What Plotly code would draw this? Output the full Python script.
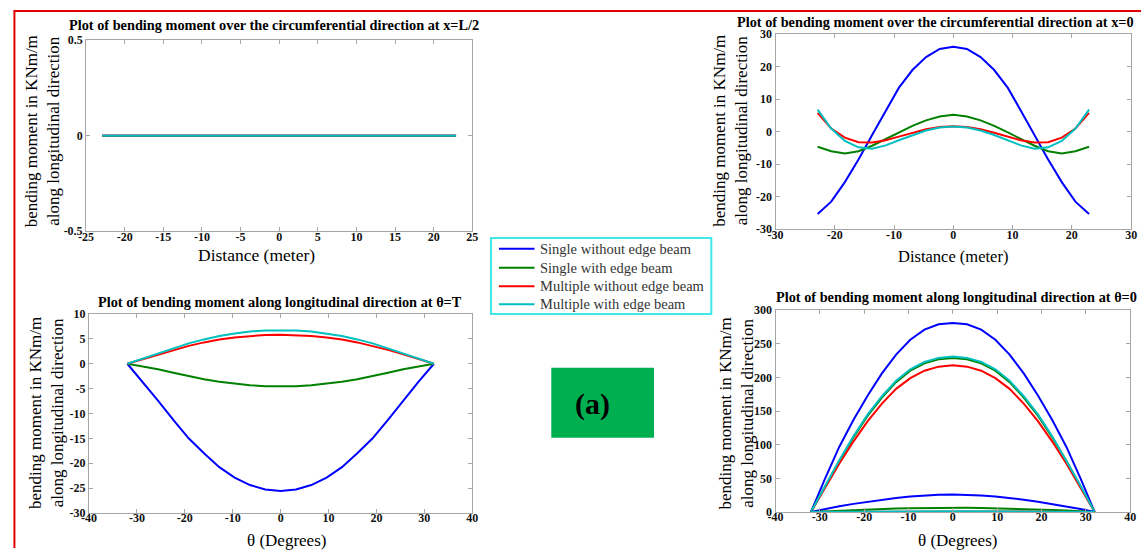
import plotly.graph_objects as go

W, H = 1147, 555

# ---- data ----------------------------------------------------------------
series_names = ["Single without edge beam", "Single with edge beam",
                "Multiple without edge beam", "Multiple with edge beam"]
series_colors = ["#0000ff", "#008000", "#ff0000", "#00bfbf"]

distance = [-22.9, -20.6, -18.3, -16.0, -13.7, -11.4, -9.2, -6.9, -4.6, -2.3, 0.0,
            2.3, 4.6, 6.9, 9.2, 11.4, 13.7, 16.0, 18.3, 20.6, 22.9]
theta = [-32.0, -28.8, -25.6, -22.4, -19.2, -16.0, -12.8, -9.6, -6.4, -3.2, 0.0,
         3.2, 6.4, 9.6, 12.8, 16.0, 19.2, 22.4, 25.6, 28.8, 32.0]

# circumferential moment at x = L/2
mid_single = [0.000, 0.000, 0.001, 0.001, 0.001, 0.001, 0.000, 0.000, -0.001, 0.000, 0.001,
              0.000, -0.001, 0.000, 0.001, 0.001, 0.001, 0.001, 0.001, 0.000, 0.000]
mid_single_eb = [0.000, 0.000, 0.001, 0.001, 0.001, 0.001, 0.000, 0.000, -0.001, 0.000, 0.001,
                 0.000, -0.001, 0.000, 0.001, 0.001, 0.001, 0.001, 0.001, 0.000, 0.000]
mid_multi = [0.000, 0.000, 0.001, 0.001, 0.001, 0.001, 0.000, 0.000, -0.001, 0.000, 0.001,
             0.000, -0.001, 0.000, 0.001, 0.001, 0.001, 0.001, 0.001, 0.000, 0.000]
mid_multi_eb = [-0.001, -0.001, 0.000, 0.001, 0.001, 0.001, 0.001, 0.000, -0.002, -0.001, 0.001,
                -0.001, -0.002, 0.000, 0.001, 0.001, 0.001, 0.001, 0.000, -0.001, -0.001]

# circumferential moment at x = 0
end_single = [-25.3, -21.5, -15.5, -8.5, -1.0, 6.5, 13.5, 19.0, 23.0, 25.5, 26.2,
              25.5, 23.0, 19.0, 13.5, 6.5, -1.0, -8.5, -15.5, -21.5, -25.3]
end_single_eb = [-4.6, -6.0, -6.7, -6.0, -4.3, -2.2, -0.2, 1.8, 3.5, 4.7, 5.2,
                 4.7, 3.5, 1.8, -0.2, -2.2, -4.3, -6.0, -6.7, -6.0, -4.6]
end_multi = [5.8, 1.0, -1.8, -3.2, -3.3, -2.6, -1.5, -0.3, 0.8, 1.5, 1.7,
             1.5, 0.8, -0.3, -1.5, -2.6, -3.3, -3.2, -1.8, 1.0, 5.8]
end_multi_eb = [6.8, 1.0, -2.8, -4.8, -5.2, -4.2, -2.6, -1.0, 0.4, 1.3, 1.6,
                1.3, 0.4, -1.0, -2.6, -4.2, -5.2, -4.8, -2.8, 1.0, 6.8]

# longitudinal moment at theta = T
edge_single = [0.0, -3.6, -7.4, -11.3, -15.0, -18.0, -20.8, -22.9, -24.4, -25.3, -25.6,
               -25.3, -24.4, -22.9, -20.8, -18.0, -15.0, -11.3, -7.4, -3.6, 0.0]
edge_single_eb = [0.0, -0.5, -1.1, -1.8, -2.5, -3.1, -3.6, -4.0, -4.3, -4.5, -4.5,
                  -4.5, -4.3, -4.0, -3.6, -3.1, -2.5, -1.8, -1.1, -0.5, 0.0]
edge_multi = [0.0, 0.9, 1.9, 2.8, 3.6, 4.3, 4.9, 5.3, 5.6, 5.8, 5.85,
              5.8, 5.6, 5.3, 4.9, 4.3, 3.6, 2.8, 1.9, 0.9, 0.0]
edge_multi_eb = [0.0, 1.0, 2.1, 3.1, 4.1, 4.9, 5.6, 6.1, 6.5, 6.7, 6.75,
                 6.7, 6.5, 6.1, 5.6, 4.9, 4.1, 3.1, 2.1, 1.0, 0.0]

# longitudinal moment at theta = 0 (upper set)
crown_single = [0, 50, 97, 137, 173, 206, 234, 256, 271, 279, 281,
                279, 271, 256, 234, 206, 173, 137, 97, 50, 0]
crown_single_eb = [0, 38, 76, 111, 143, 170, 193, 210, 221, 227, 229,
                   227, 221, 210, 193, 170, 143, 111, 76, 38, 0]
crown_multi = [0, 36, 72, 105, 135, 161, 183, 199, 210, 216, 218,
               216, 210, 199, 183, 161, 135, 105, 72, 36, 0]
crown_multi_eb = [0, 39, 77, 113, 145, 172, 195, 212, 223, 229, 231,
                  229, 223, 212, 195, 172, 145, 113, 77, 39, 0]
# longitudinal moment at theta = 0 (lower set)
crown_single_lo = [0, 4.5, 8.5, 12.0, 15.3, 18.2, 20.8, 22.9, 24.6, 25.6, 26.0,
                   25.6, 24.6, 22.9, 20.8, 18.2, 15.3, 12.0, 8.5, 4.5, 0]
crown_single_eb_lo = [0, 1.0, 2.0, 2.9, 3.7, 4.5, 5.1, 5.6, 6.0, 6.2, 6.3,
                      6.2, 6.0, 5.6, 5.1, 4.5, 3.7, 2.9, 2.0, 1.0, 0]
crown_multi_lo = [0, 0.1, 0.2, 0.3, 0.4, 0.5, 0.5, 0.6, 0.6, 0.7, 0.7,
                  0.7, 0.6, 0.6, 0.5, 0.5, 0.4, 0.3, 0.2, 0.1, 0]
crown_multi_eb_lo = [0, 0.2, 0.3, 0.5, 0.6, 0.7, 0.8, 0.9, 0.9, 1.0, 1.0,
                     1.0, 0.9, 0.9, 0.8, 0.7, 0.6, 0.5, 0.3, 0.2, 0]

tl_xticks = [-25, -20, -15, -10, -5, 0, 5, 10, 15, 20, 25]
tl_yticks = [-0.5, 0, 0.5]
tr_xticks = [-30, -20, -10, 0, 10, 20, 30]
tr_yticks = [-30, -20, -10, 0, 10, 20, 30]
bl_xticks = [-40, -30, -20, -10, 0, 10, 20, 30, 40]
bl_yticks = [-30, -25, -20, -15, -10, -5, 0, 5, 10]
br_xticks = [-40, -30, -20, -10, 0, 10, 20, 30, 40]
br_yticks = [0, 50, 100, 150, 200, 250, 300]

titles = ["Plot of bending moment over the circumferential direction at x=L/2",
          "Plot of bending moment over the circumferential direction at x=0",
          "Plot of bending moment along longitudinal direction at θ=T",
          "Plot of bending moment along longitudinal direction at θ=0"]
ylabel = "bending moment in KNm/m<br>along longitudinal direction"
xlabel_dist = "Distance (meter)"
xlabel_theta = "θ (Degrees)"
panel_tag = "(a)"

# ---- helpers -------------------------------------------------------------
SERIF = "Liberation Serif, Times New Roman, serif"


def px_x(p):
    return p / W


def px_y(p):
    return 1 - p / H


def tick_text(vals):
    return [("%g" % v) for v in vals]


fig = go.Figure()

panels = [
    ("x", "y", distance, [mid_single, mid_single_eb, mid_multi, mid_multi_eb]),
    ("x2", "y2", distance, [end_single, end_single_eb, end_multi, end_multi_eb]),
    ("x3", "y3", theta, [edge_single, edge_single_eb, edge_multi, edge_multi_eb]),
    ("x4", "y4", theta, [crown_single, crown_single_eb, crown_multi, crown_multi_eb]),
    ("x4", "y4", theta, [crown_single_lo, crown_single_eb_lo, crown_multi_lo, crown_multi_eb_lo]),
]

for k, (xa, ya, xs, group) in enumerate(panels):
    for i, ys in enumerate(group):
        fig.add_trace(go.Scatter(
            x=xs, y=ys, mode="lines", xaxis=xa, yaxis=ya,
            name=series_names[i], showlegend=False,
            line=dict(color=series_colors[i], width=2),
        ))

axis_common = dict(
    showgrid=False, zeroline=False, showline=True, linecolor="#a6a6a6",
    linewidth=1, mirror="ticks", ticks="inside", ticklen=4,
    tickcolor="#a6a6a6",
    tickfont=dict(family=SERIF, size=12, color="#111111", weight="bold"),
)


def make_axis(dom, rng, vals, anchor, standoff):
    d = dict(axis_common)
    d.update(domain=dom, range=rng, tickvals=vals, ticktext=tick_text(vals),
             anchor=anchor, ticklabelstandoff=standoff)
    return d


fig.update_layout(
    width=W, height=H, margin=dict(l=0, r=0, t=0, b=0),
    paper_bgcolor="white", plot_bgcolor="white", showlegend=False,
    xaxis=make_axis([px_x(79), px_x(470)], [-25, 25], tl_xticks, "y", -6),
    yaxis=make_axis([px_y(230), px_y(34)], [-0.5, 0.5], tl_yticks, "x", 0),
    xaxis2=make_axis([px_x(777), px_x(1137)], [-30, 30], tr_xticks, "y2", -6),
    yaxis2=make_axis([px_y(228), px_y(28)], [-30, 30], tr_yticks, "x2", 0),
    xaxis3=make_axis([px_x(82), px_x(470)], [-40, 40], bl_xticks, "y3", -6),
    yaxis3=make_axis([px_y(519), px_y(315)], [-30, 10], bl_yticks, "x3", 0),
    xaxis4=make_axis([px_x(777), px_x(1136)], [-40, 40], br_xticks, "y4", -6),
    yaxis4=make_axis([px_y(518), px_y(311)], [0, 300], br_yticks, "x4", 0),
)

annotations = []


def text_at(x, y, s, size, bold=False, angle=0, color="#000000", anchor="center"):
    annotations.append(dict(
        x=px_x(x), y=px_y(y), xref="paper", yref="paper", text=s,
        showarrow=False, xanchor=anchor, yanchor="middle", textangle=angle,
        font=dict(family=SERIF, size=size, color=color,
                  weight="bold" if bold else "normal"),
    ))


# panel titles
text_at(269, 18, titles[0], 14.3, bold=True)
text_at(939, 15, titles[1], 14.3, bold=True)
text_at(275, 303, titles[2], 14.3, bold=True)
text_at(960, 297, titles[3], 14.3, bold=True)

# axis labels
text_at(252, 254, xlabel_dist, 17.5)
text_at(957, 256, xlabel_dist, 16.5)
text_at(282, 547, xlabel_theta, 17)
text_at(961, 547, xlabel_theta, 17)
text_at(35, 128, ylabel, 17, angle=-90)
text_at(732, 127, ylabel, 17, angle=-90)
text_at(39, 417, ylabel, 17, angle=-90)
text_at(737, 417, ylabel, 17, angle=-90)

# panel tag on green box
text_at(592, 407, panel_tag, 30, bold=True)

# legend: framed box with a sample line and a label per series
legend_rows = [248, 267.5, 286.5, 305]
shapes = []
for i, name in enumerate(series_names):
    yy = px_y(legend_rows[i])
    shapes.append(dict(type="line", xref="paper", yref="paper",
                       x0=px_x(497), x1=px_x(533), y0=yy, y1=yy,
                       line=dict(color=series_colors[i], width=2)))
    text_at(537, legend_rows[i], name, 14.5, color="#333333", anchor="left")

shapes += [
    dict(type="rect", xref="paper", yref="paper",
         x0=px_x(489), x1=px_x(712), y0=px_y(315), y1=px_y(237),
         line=dict(color="#40e8e8", width=2), fillcolor="rgba(0,0,0,0)"),
    # outer red frame (left and top edges)
    dict(type="line", xref="paper", yref="paper",
         x0=px_x(6.5), x1=px_x(6.5), y0=0, y1=px_y(4),
         line=dict(color="#e00000", width=2)),
    dict(type="line", xref="paper", yref="paper",
         x0=px_x(5.5), x1=1, y0=px_y(4), y1=px_y(4),
         line=dict(color="#e00000", width=2)),
    # green tag box
    dict(type="rect", xref="paper", yref="paper",
         x0=px_x(550), x1=px_x(654), y0=px_y(442), y1=px_y(370),
         fillcolor="#00b050", line=dict(width=0), layer="below"),
]
fig.update_layout(annotations=annotations, shapes=shapes)

fig.write_html("out.html")
